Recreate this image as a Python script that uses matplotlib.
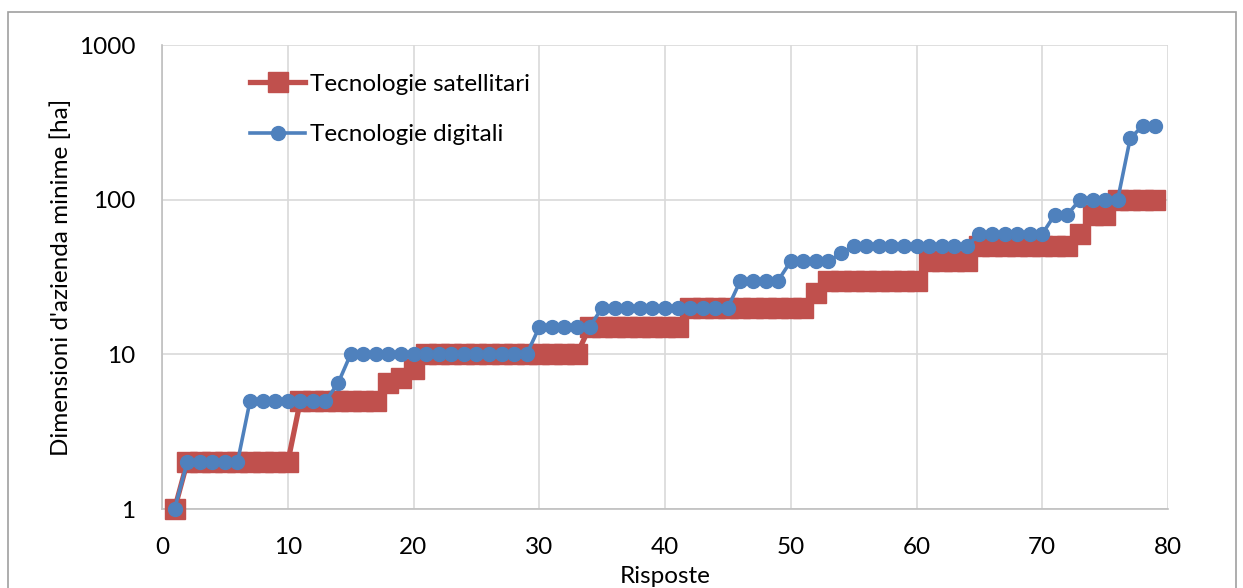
import numpy as np
import matplotlib
matplotlib.use("Agg")
import matplotlib.pyplot as plt
from matplotlib.patches import Rectangle

plt.rcParams['font.family'] = ['Lato', 'DejaVu Sans']

# risposte 1..79
risposte = list(range(1, 80))

satellitari = ([1] + [2] * 9 + [5] * 7 + [6.5, 7, 8] + [10] * 13 + [15] * 8 +
               [20] * 10 + [25] + [30] * 8 + [40] * 4 + [50] * 8 + [60] +
               [80] * 2 + [100] * 4)

digitali = ([1] + [2] * 5 + [5] * 7 + [6.5] + [10] * 15 + [15] * 5 +
            [20] * 11 + [30] * 4 + [40] * 4 + [45] + [50] * 10 + [60] * 6 +
            [80] * 2 + [100] * 4 + [250] + [300] * 2)

xticks = [0, 10, 20, 30, 40, 50, 60, 70, 80]
yticks = [1, 10, 100, 1000]
ytick_labels = ['1', '10', '100', '1000']

red = '#C0504D'
blue = '#4F81BD'

fig = plt.figure(figsize=(12.43, 5.88), dpi=100)
ax = fig.add_axes([162 / 1243, 1 - 509 / 588, 1006 / 1243, 464 / 588])

ax.plot(risposte, satellitari, color=red, lw=3.8, marker='s', ms=14.5,
        mec=red, mfc=red, label='Tecnologie satellitari', zorder=3,
        clip_on=False)
ax.plot(risposte, digitali, color=blue, lw=2.6, marker='o', ms=10,
        mec=blue, mfc=blue, label='Tecnologie digitali', zorder=4,
        clip_on=False)

ax.set_yscale('log')
ax.set_xlim(0, 80)
ax.set_ylim(1, 1000)
ax.set_xticks(xticks)
ax.set_yticks(yticks)
ax.set_yticklabels(ytick_labels)
ax.yaxis.set_minor_locator(matplotlib.ticker.NullLocator())
ax.tick_params(axis='both', length=0, labelsize=17.5)
ax.tick_params(axis='y', pad=19)
ax.tick_params(axis='x', pad=20)

ax.grid(True, color='#d9d9d9', lw=1.2)
ax.set_axisbelow(True)
for s in ['top', 'right']:
    ax.spines[s].set_visible(False)
for s in ['left', 'bottom']:
    ax.spines[s].set_color('#bfbfbf')
    ax.spines[s].set_linewidth(1.2)

ax.set_xlabel('Risposte', fontsize=17.5, labelpad=6)
ax.set_ylabel("Dimensioni d'azienda minime [ha]", fontsize=17.5, labelpad=5)

leg = ax.legend(loc='upper left', bbox_to_anchor=(0.066, 0.985), frameon=False,
                fontsize=17.5, handlelength=2.25, handletextpad=0.2,
                labelspacing=1.2)

# outer chart border
fig.patches.append(Rectangle((8 / 1243, -0.05), 1228 / 1243, 1.05 - 12 / 588,
                             transform=fig.transFigure, fill=False,
                             ec='#a0a0a0', lw=1.2, zorder=0))

fig.savefig('out.png', dpi=100)
